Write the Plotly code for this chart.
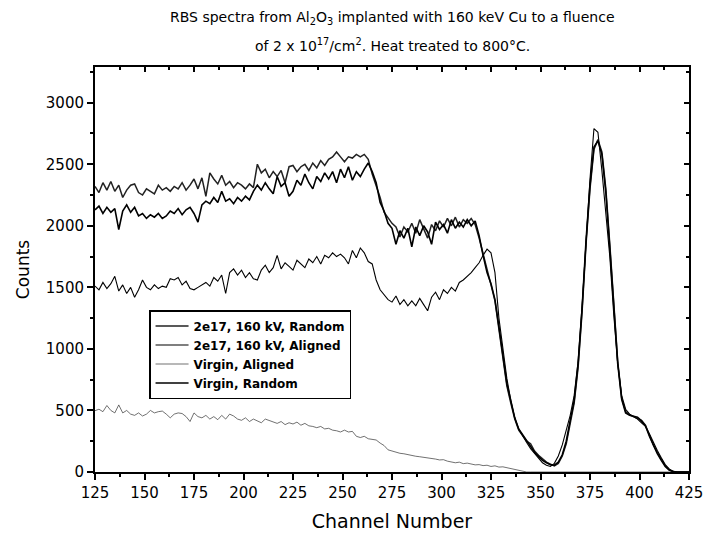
import plotly.graph_objects as go

channels = list(range(125, 426, 2))

random_2e17 = [
    2320, 2270, 2350, 2290, 2360, 2280, 2330, 2230, 2290, 2330,
    2340, 2270, 2250, 2300, 2280, 2260, 2330, 2290, 2310, 2280,
    2320, 2300, 2350, 2290, 2330, 2380, 2300, 2390, 2240, 2430,
    2380, 2340, 2410, 2330, 2360, 2310, 2350, 2330, 2300, 2340,
    2310, 2500, 2430, 2460, 2390, 2440, 2400, 2450, 2350, 2480,
    2490, 2440, 2480, 2500, 2450, 2510, 2470, 2530, 2490, 2540,
    2560, 2600, 2560, 2520, 2560, 2550, 2580, 2560, 2580, 2540,
    2420, 2330, 2230, 2110, 2060, 2020, 1990, 1910, 1990, 1950,
    2020, 1940, 2050, 1980, 1900, 2010, 1960, 2040, 1990, 2060,
    2000, 2070, 1990, 2050, 2020, 2060, 2010, 1900, 1780, 1640,
    1520, 1390, 1150, 920, 700, 560, 430, 340, 290, 250,
    230, 170, 135, 105, 80, 63, 50, 70, 130, 230,
    400, 560, 850, 1300, 1850, 2300, 2620, 2700, 2600, 2300,
    1850, 1350, 900, 600, 490, 465, 450, 440, 420, 380,
    300, 220, 160, 100, 50, 18, 5, 0, 0, 0,
    0,
]

aligned_2e17 = [
    1510, 1480, 1540, 1490, 1530, 1590, 1470, 1520, 1450, 1500,
    1420, 1480, 1560, 1500, 1480, 1520, 1490, 1510, 1500, 1570,
    1560, 1580, 1520, 1550, 1490, 1480, 1500, 1520, 1540, 1510,
    1580, 1550, 1600, 1450, 1620, 1650, 1600, 1640, 1580, 1620,
    1570, 1560, 1640, 1680, 1620, 1660, 1760, 1650, 1700, 1670,
    1640, 1720, 1690, 1660, 1730, 1700, 1750, 1690, 1760, 1740,
    1780, 1750, 1770, 1740, 1690, 1800, 1740, 1820, 1780, 1710,
    1690, 1560, 1480, 1440, 1400, 1380, 1430, 1360, 1400, 1350,
    1390, 1350, 1410, 1360, 1310, 1420, 1460, 1400, 1480, 1450,
    1500, 1470, 1540, 1560, 1590, 1620, 1660, 1700, 1760, 1810,
    1780, 1620, 1250, 980, 760, 580, 440, 350, 290, 240,
    190, 150, 110, 75, 55, 45, 70, 130, 220, 340,
    460, 620, 900, 1350, 1900, 2380, 2790, 2760, 2450, 2100,
    1750, 1280, 880, 620, 510, 470, 450, 430, 400, 370,
    310, 240, 175, 115, 60, 25, 5, 0, 0, 0,
    0,
]

virgin_aligned = [
    498, 510, 490, 540, 500, 480, 545, 480, 500, 470,
    460, 480, 455, 470, 500, 480, 490, 495, 470, 440,
    470, 480, 475, 450, 410, 480, 450, 440, 460, 430,
    450, 425, 460, 430, 470, 455, 430, 420, 440, 410,
    430, 415, 400, 430, 420, 405, 395, 410, 385, 400,
    390, 405, 380, 395, 375, 370, 360, 370, 350, 355,
    340, 335, 325, 340, 325, 330, 290, 280, 290, 270,
    265, 260, 235, 215, 180, 170, 160, 152, 148, 140,
    135, 128, 124, 120, 118, 112, 105, 98, 100, 88,
    82, 75, 80, 68, 72, 62, 58, 60, 52, 55,
    45, 50, 40, 42, 35, 25, 15, 8, 3, 0,
    0, 0, 0, 0, 0, 0, 0, 0, 0, 0,
    0, 0, 0, 0, 0, 0, 0, 0, 0, 0,
    0, 0, 0, 0, 0, 0, 0, 0, 0, 0,
    0, 0, 0, 0, 0, 0, 0, 0, 0, 0,
    0,
]

virgin_random = [
    2130, 2160, 2100, 2150, 2110, 2140, 1970, 2120, 2170, 2110,
    2150, 2080, 2100, 2060, 2090, 2070, 2100, 2060, 2080, 2120,
    2100, 2140, 2090, 2130, 2150, 2100, 2030, 2170, 2200, 2180,
    2230, 2190, 2280, 2200, 2220, 2180, 2230, 2200, 2240, 2210,
    2280, 2330, 2290, 2350, 2300, 2260, 2400, 2320, 2350, 2240,
    2280, 2370, 2330, 2420, 2350, 2300, 2400, 2360, 2430, 2380,
    2440, 2350, 2460, 2390, 2480, 2370, 2440, 2400, 2460, 2510,
    2440, 2350, 2190, 2120, 2020, 1980, 1850, 1960, 1900, 1980,
    1830, 1990, 1920, 2000, 1950, 1850, 2030, 1970, 2010, 1940,
    2050, 1980, 2030, 1990, 2050, 2000, 2040, 1920, 1760, 1620,
    1530, 1400, 1180, 940, 720, 580, 440, 350, 300, 260,
    210, 160, 125, 95, 75, 60, 55, 80, 140, 250,
    420, 580, 880, 1330, 1880, 2330, 2640, 2690, 2580, 2270,
    1820, 1320, 880, 590, 480, 460, 455, 445, 415, 375,
    290, 215, 150, 95, 45, 15, 3, 0, 0, 0,
    0,
]

x_ticks = [125, 150, 175, 200, 225, 250, 275, 300, 325, 350, 375, 400, 425]
y_ticks = [0, 500, 1000, 1500, 2000, 2500, 3000]

FONT = "DejaVu Sans, Liberation Sans, Arial, sans-serif"

fig = go.Figure()
series = [
    ("2e17, 160 kV, Random", random_2e17, "#222222", 1.5),
    ("2e17, 160 kV, Aligned", aligned_2e17, "#000000", 1.1),
    ("Virgin, Aligned", virgin_aligned, "#333333", 0.7),
    ("Virgin, Random", virgin_random, "#000000", 1.6),
]
for name, vals, col, w in series:
    fig.add_trace(go.Scatter(
        x=channels, y=vals, mode="lines", name="<b>" + name + "</b>",
        line=dict(color=col, width=w),
    ))

# overlay axes for the inward ticks on top/right
fig.add_trace(go.Scatter(x=[], y=[], xaxis="x2", yaxis="y2",
                         showlegend=False, hoverinfo="skip"))

XR = [125, 425]
YR = [0, 3290]
ML, MR, MT, MB = 95, 15, 67, 63
plot_h = 535 - MT - MB

fig.update_layout(
    width=704, height=535,
    margin=dict(l=ML, r=MR, t=MT, b=MB, autoexpand=False),
    paper_bgcolor="white", plot_bgcolor="white",
    font=dict(family=FONT, color="black"),
    showlegend=True,
    legend=dict(
        x=0.091, y=0.40, xanchor="left", yanchor="top",
        bgcolor="white", bordercolor="black", borderwidth=1.5,
        font=dict(family=FONT, size=12, color="black"),
        itemwidth=33, tracegroupgap=0,
    ),
    xaxis=dict(
        range=XR, tickvals=x_ticks, ticktext=[str(v) for v in x_ticks],
        ticks="outside", ticklen=6, tickwidth=1.5, tickcolor="black",
        minor=dict(tickvals=[v + 12.5 for v in x_ticks[:-1]], ticks="outside",
                   ticklen=3, tickwidth=1.5, tickcolor="black"),
        showline=True, linecolor="black", linewidth=2, mirror=True,
        showgrid=False, zeroline=False, automargin=False,
        tickfont=dict(family=FONT, size=15, color="black"),
        title=dict(text="Channel Number", font=dict(family=FONT, size=19, color="black"),
                   standoff=14),
    ),
    yaxis=dict(
        range=YR, tickvals=y_ticks, ticktext=[str(v) for v in y_ticks],
        ticks="outside", ticklen=6, tickwidth=1.5, tickcolor="black",
        minor=dict(tickvals=[v + 250 for v in y_ticks], ticks="outside",
                   ticklen=3, tickwidth=1.5, tickcolor="black"),
        showline=True, linecolor="black", linewidth=2, mirror=True,
        showgrid=False, zeroline=False, automargin=False,
        tickfont=dict(family=FONT, size=15, color="black"),
        title=dict(text="Counts", font=dict(family=FONT, size=17, color="black"),
                   standoff=12),
    ),
    xaxis2=dict(
        overlaying="x", side="top", anchor="y", range=XR,
        tickvals=x_ticks, showticklabels=False,
        ticks="inside", ticklen=5, tickwidth=1.5, tickcolor="black",
        minor=dict(tickvals=[v + 12.5 for v in x_ticks[:-1]], ticks="inside",
                   ticklen=3, tickwidth=1.5, tickcolor="black"),
        showgrid=False, zeroline=False, showline=False, automargin=False,
    ),
    yaxis2=dict(
        overlaying="y", side="right", anchor="x", range=YR,
        tickvals=y_ticks, showticklabels=False,
        ticks="inside", ticklen=5, tickwidth=1.5, tickcolor="black",
        minor=dict(tickvals=[v + 250 for v in y_ticks], ticks="inside",
                   ticklen=3, tickwidth=1.5, tickcolor="black"),
        showgrid=False, zeroline=False, showline=False, automargin=False,
    ),
    annotations=[
        dict(text="RBS spectra from Al<sub>2</sub>O<sub>3</sub> implanted with 160 keV Cu to a fluence",
             x=0.5, xref="paper", y=1 + (MT - 18) / plot_h, yref="paper",
             yanchor="middle", showarrow=False,
             font=dict(family=FONT, size=14, color="black")),
        dict(text="of 2 x 10<sup>17</sup>/cm<sup>2</sup>. Heat treated to 800°C.",
             x=0.5, xref="paper", y=1 + (MT - 45) / plot_h, yref="paper",
             yanchor="middle", showarrow=False,
             font=dict(family=FONT, size=14, color="black")),
    ],
)

fig.write_html(
    "out.html",
    config={"displayModeBar": False},
    post_script="document.body.style.margin='0';document.body.style.overflow='hidden';",
)
